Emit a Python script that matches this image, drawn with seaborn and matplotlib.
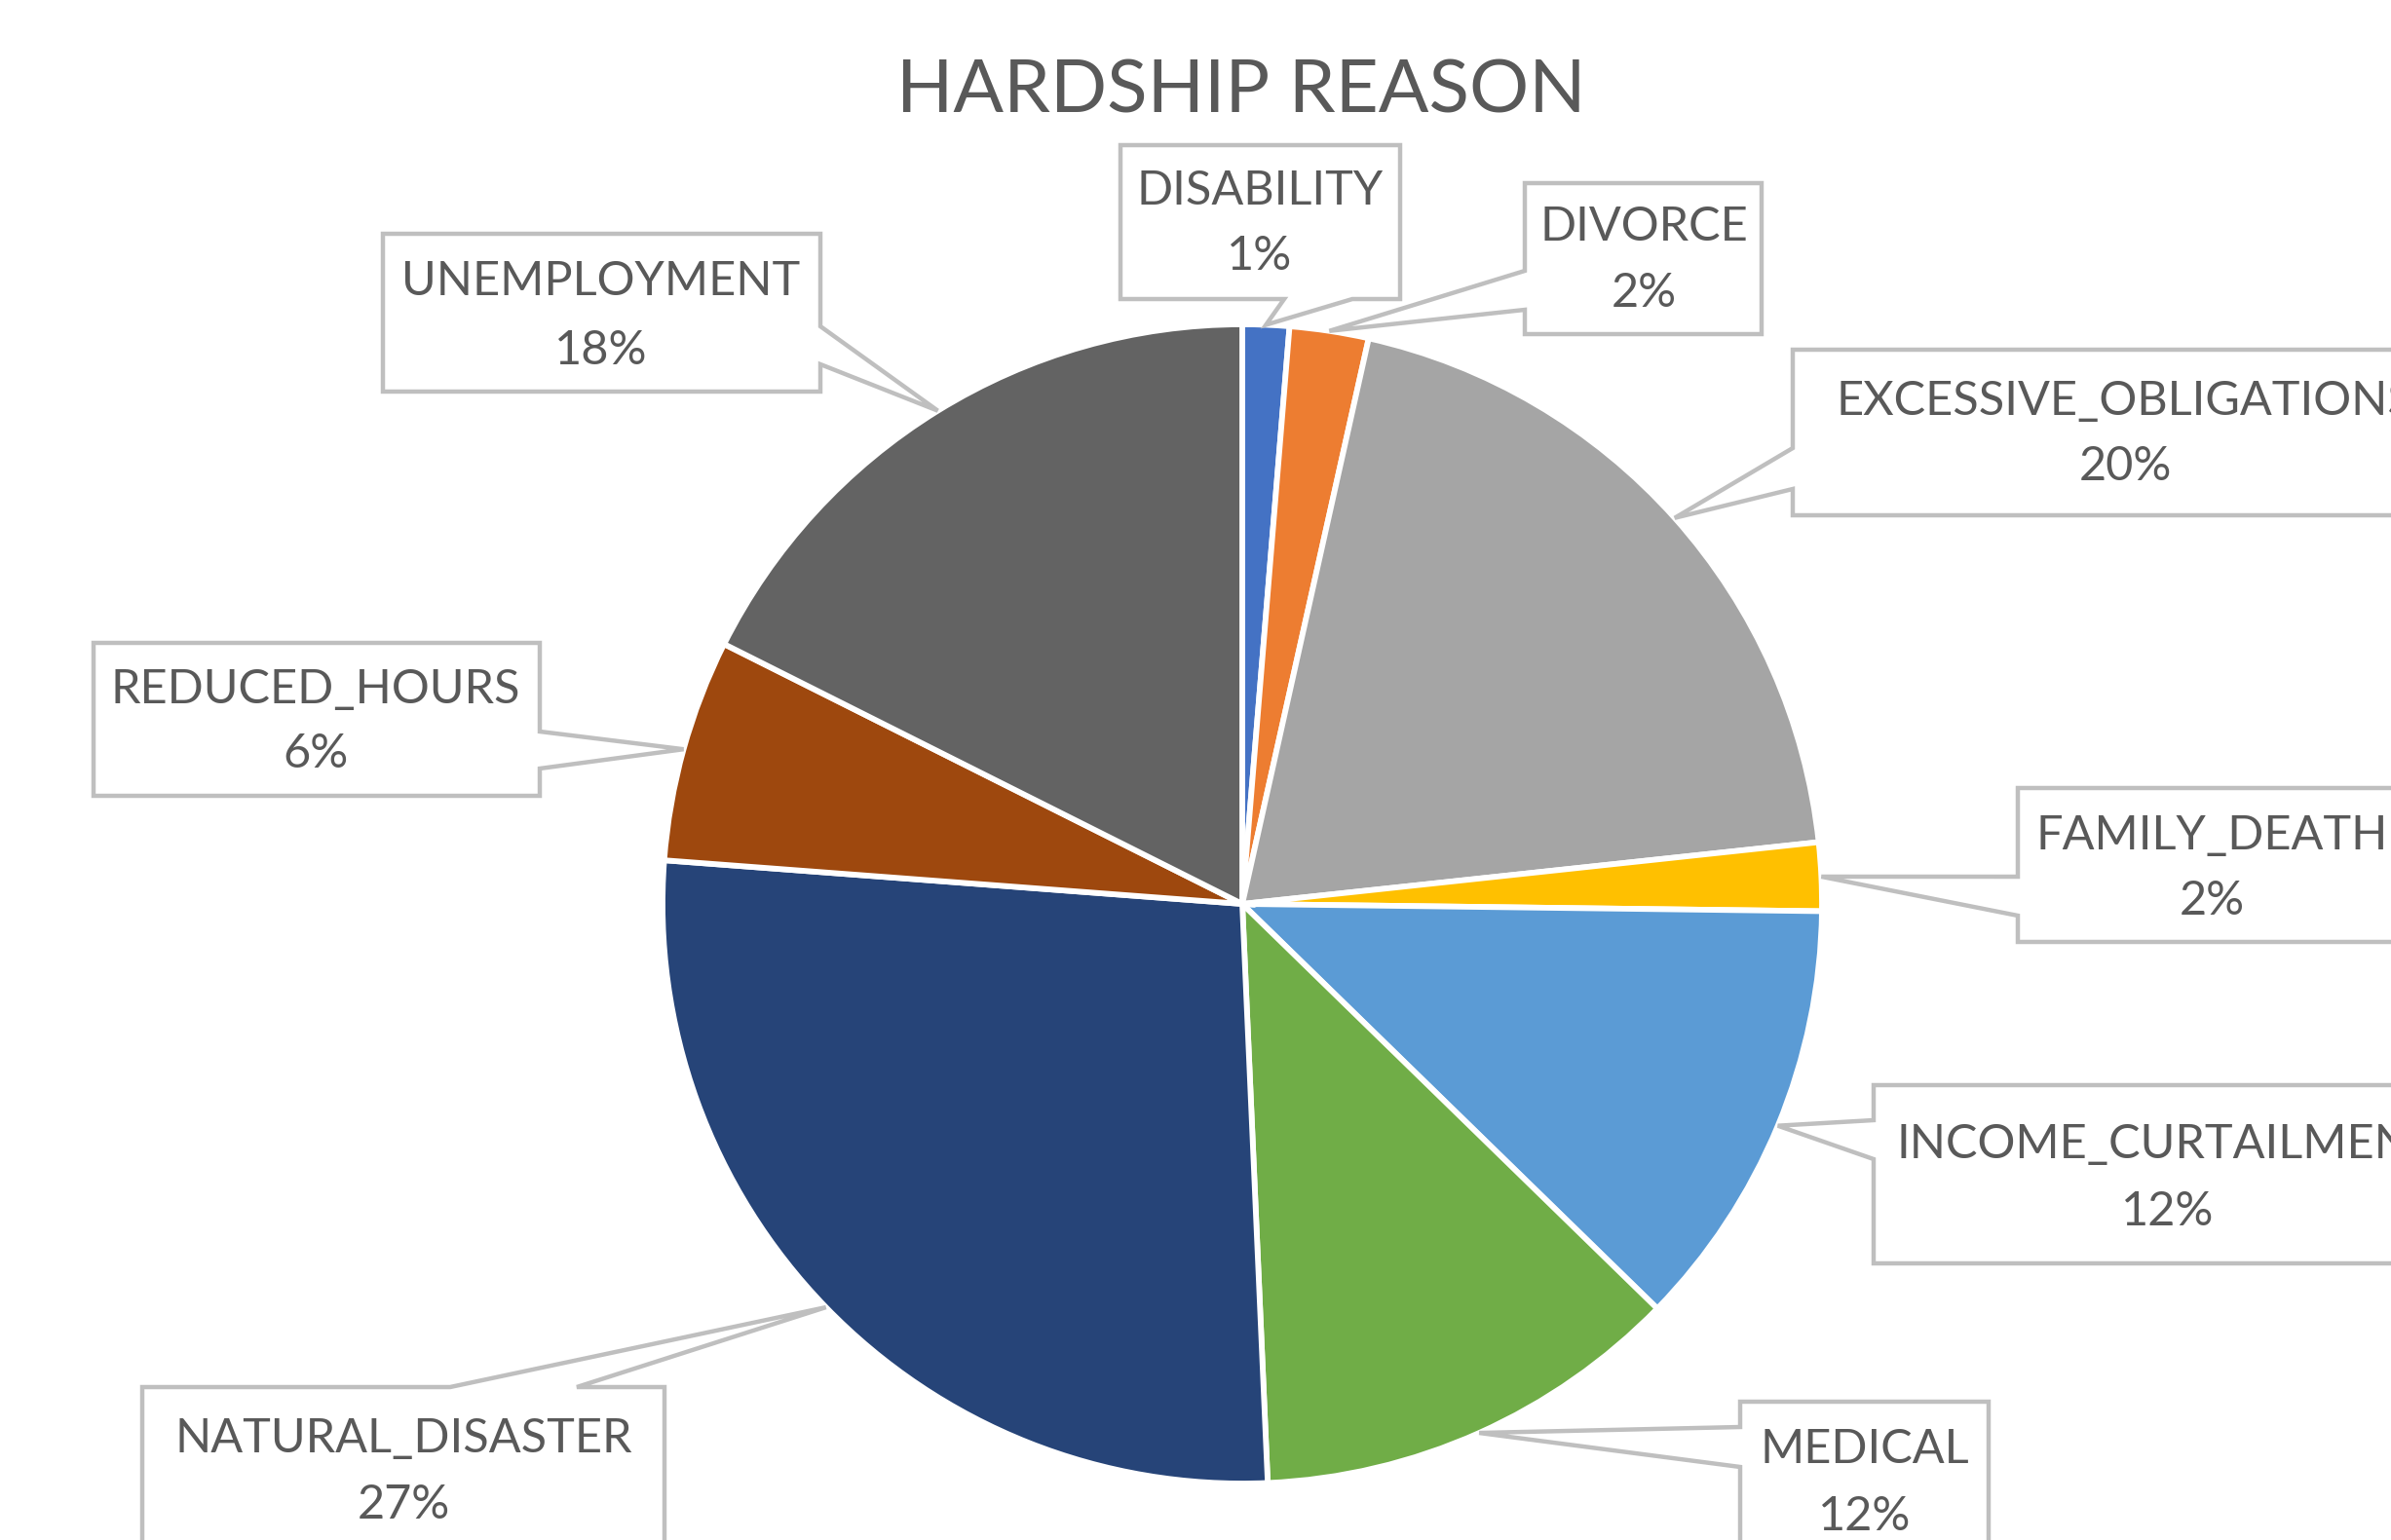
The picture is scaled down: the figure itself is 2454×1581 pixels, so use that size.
import matplotlib
matplotlib.use("Agg")
import matplotlib.pyplot as plt
from matplotlib.patches import Polygon
import seaborn as sns
import numpy as np

# ---- data ----
categories = ["DISABILITY", "DIVORCE", "EXCESSIVE_OBLIGATIONS", "FAMILY_DEATH",
              "INCOME_CURTAILMENT", "MEDICAL", "NATURAL_DISASTER", "REDUCED_HOURS",
              "UNEMPLOYMENT"]
values = [1.3, 2.2, 19.8, 1.9, 12.1, 12.0, 26.9, 6.2, 17.6]
colors = ["#4472C4", "#ED7D31", "#A5A5A5", "#FFC000", "#5B9BD5",
          "#70AD47", "#264478", "#9E480E", "#636363"]
title = "HARDSHIP REASON"

# ---- layout (pixel units, y measured from top) ----
W, H = 2454, 1581
CX, CY, R = 1275, 928, 595
# box: (x0, y0, x1, y1), pointer side, pointer base (b0, b1), text center x, line1 y, line2 y
boxes = {
    "DISABILITY":            ((1150, 149, 1437, 307), "bottom", (1318, 1388), 1293, 196, 263),
    "DIVORCE":               ((1565, 188, 1808, 343), "left", (278, 318), 1687, 233, 301),
    "EXCESSIVE_OBLIGATIONS": ((1840, 359, 2522, 529), "left", (460, 502), 2181, 412, 479),
    "FAMILY_DEATH":          ((2071, 809, 2469, 967), "left", (900, 940), 2270, 858, 925),
    "INCOME_CURTAILMENT":    ((1923, 1114, 2527, 1297), "left", (1150, 1190), 2225, 1175, 1244),
    "MEDICAL":               ((1786, 1439, 2041, 1600), "left", (1465, 1506), 1914, 1488, 1557),
    "NATURAL_DISASTER":      ((146, 1424, 682, 1620), "top", (462, 592), 414, 1477, 1545),
    "REDUCED_HOURS":         ((96, 660, 554, 817), "right", (751, 789), 324, 708, 774),
    "UNEMPLOYMENT":          ((393, 240, 842, 402), "right", (335, 374), 617, 289, 360),
}

sns.set_theme(style="white")
plt.rcParams["font.family"] = ["Lato", "DejaVu Sans"]
TEXT = "#595959"
EDGE = "#BFBFBF"

fig = plt.figure(figsize=(W / 100, H / 100), dpi=100)
ax = fig.add_axes([0, 0, 1, 1])

wedges, _ = ax.pie(values, colors=colors, startangle=90, counterclock=False,
                   center=(CX, H - CY), radius=R,
                   wedgeprops=dict(edgecolor="white", linewidth=4.2))
ax.set_xlim(0, W)
ax.set_ylim(0, H)
ax.set_aspect("equal")
ax.axis("off")

total = sum(values)
cum = np.cumsum([0] + values[:-1])
for name, v, c0 in zip(categories, values, cum):
    mid = (c0 + v / 2) / total * 2 * np.pi
    tipx = CX + R * np.sin(mid)
    tipy = CY - R * np.cos(mid)
    (x0, y0, x1, y1), side, (b0, b1), tx, ly1, ly2 = boxes[name]
    tip = (tipx, tipy)
    TL, TR, BR, BL = (x0, y0), (x1, y0), (x1, y1), (x0, y1)
    if side == "top":
        pts = [TL, (b0, y0), tip, (b1, y0), TR, BR, BL]
    elif side == "right":
        pts = [TL, TR, (x1, b0), tip, (x1, b1), BR, BL]
    elif side == "bottom":
        pts = [TL, TR, BR, (b1, y1), tip, (b0, y1), BL]
    else:
        pts = [TL, TR, BR, BL, (x0, b1), tip, (x0, b0)]
    pts = [(px, H - py) for px, py in pts]
    ax.add_patch(Polygon(pts, closed=True, facecolor="white", edgecolor=EDGE,
                         linewidth=3.2, zorder=5, joinstyle="miter"))
    pct = f"{round(v / total * 100)}%"
    ax.text(tx, H - ly1, name, ha="center", va="center", fontsize=35,
            color=TEXT, zorder=6)
    ax.text(tx, H - ly2, pct, ha="center", va="center", fontsize=35,
            color=TEXT, zorder=6)

ax.text(1274, H - 94, title, ha="center", va="center", fontsize=55,
        color=TEXT, zorder=6)

fig.savefig("out.png", dpi=100)
